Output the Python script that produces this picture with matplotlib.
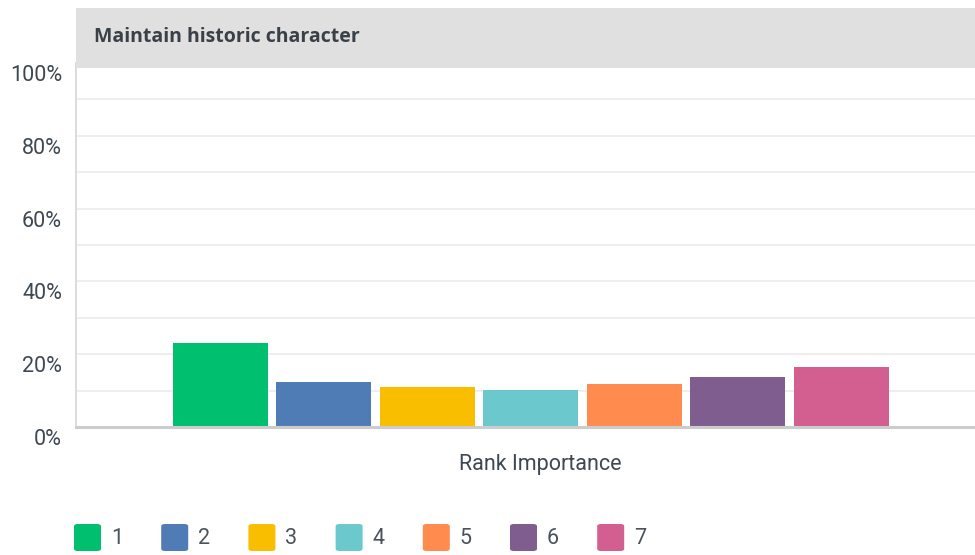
import numpy as np
import matplotlib
matplotlib.use('Agg')
import matplotlib.pyplot as plt
from matplotlib.patches import Rectangle, FancyBboxPatch
from matplotlib.transforms import ScaledTranslation

""" Data """
title = "Maintain historic character"
xlabel = "Rank Importance"
ranks = ["1", "2", "3", "4", "5", "6", "7"]
percents = [23.2, 12.3, 10.9, 10.3, 11.7, 13.6, 16.4]
colours = ['#00bf6f', '#507cb6', '#f9be00', '#6bc8cd', '#ff8b4f', '#7f5e8f', '#d25f90']

W, H = 975, 555


def fx(px):
    return px / W


def fy(py):
    return 1 - py / H


fig = plt.figure(figsize=(9.75, 5.55), dpi=100)
ax = fig.add_axes([fx(76), fy(427), fx(975) - fx(76), fy(63) - fy(427)])

x_pos = np.arange(len(ranks))
ax.bar(x_pos, percents, 0.918, color=colours, zorder=3)
ax.set_xlim(-1.396, 7.29)
ax.set_ylim(0, 100)

# Grid every 10%, labels every 20%
ax.set_yticks(np.arange(0, 101, 20))
ax.set_yticks(np.arange(0, 101, 10), minor=True)
ax.set_yticklabels(['%d%%' % v for v in range(0, 101, 20)],
                   fontsize=15.5, color='#3e4852', fontfamily='Roboto')
ax.grid(axis='y', which='both', color='#ebebeb', linewidth=1.2, zorder=0)
ax.tick_params(axis='y', which='both', length=0, pad=10)
ax.set_xticks([])

# labels sit a bit below their gridline
offset = ScaledTranslation(0, -10 / 100, fig.dpi_scale_trans)
for lbl in ax.get_yticklabels():
    lbl.set_transform(lbl.get_transform() + offset)

for side in ['top', 'right']:
    ax.spines[side].set_visible(False)
ax.spines['left'].set_color('#d6d6d6')
ax.spines['left'].set_linewidth(1.2)
ax.spines['bottom'].set_color('#cccccc')
ax.spines['bottom'].set_linewidth(2.2)
ax.spines['bottom'].set_zorder(4)

ax.set_xlabel(xlabel, fontsize=15.5, color='#3e4852', fontfamily='Roboto')
ax.xaxis.set_label_coords(0.516, -0.075)

# Header band
fig.patches.append(Rectangle((fx(76), fy(68)), fx(975) - fx(76), fy(8) - fy(68),
                             transform=fig.transFigure, facecolor='#e0e0e0',
                             edgecolor='none', zorder=5))
fig.text(fx(94), fy(37), title, fontsize=14, fontweight='bold', color='#3a4047',
         fontfamily='Open Sans', va='center', ha='left', zorder=6)

# Legend
for i, (lab, col) in enumerate(zip(ranks, colours)):
    x0 = 74 + i * 87.2
    fig.patches.append(FancyBboxPatch((fx(x0), fy(551)), fx(27), fy(524) - fy(551),
                                      boxstyle='round,pad=0,rounding_size=0.004',
                                      transform=fig.transFigure, facecolor=col,
                                      edgecolor='none'))
    fig.text(fx(x0 + 37), fy(539), lab, fontsize=15.5, color='#4a535c',
             fontfamily='Roboto', va='center', ha='left')

fig.savefig('out.png', dpi=100)
